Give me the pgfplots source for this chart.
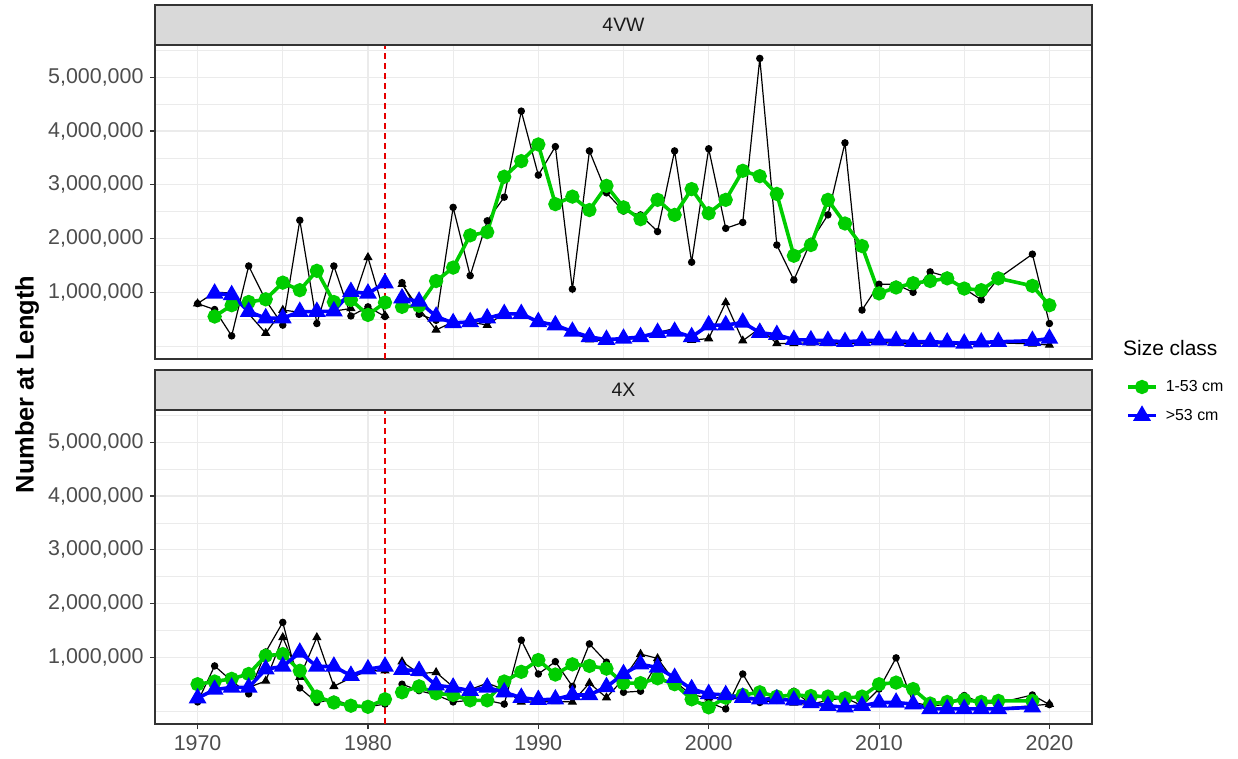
\documentclass[border=0pt]{standalone}
\usepackage{pgfplots}
\pgfplotsset{compat=1.18}
\usepackage{pgfplotstable}
\usepackage{fontspec}
\setmainfont{Liberation Sans}
\definecolor{ggreen}{HTML}{00CD00}
\definecolor{gblue}{HTML}{0000FF}
\definecolor{gridc}{HTML}{EBEBEB}
\definecolor{framec}{HTML}{333333}
\definecolor{ticklab}{HTML}{4D4D4D}
\definecolor{stripc}{HTML}{D9D9D9}
\definecolor{vred}{HTML}{E60000}

% values in millions
\pgfplotstableread{
yr c t g b
1970 0.79 0.79 nan nan
1971 0.68 1.00 0.55 0.98
1972 0.19 0.99 0.76 0.95
1973 1.49 0.60 0.82 0.64
1974 0.85 0.24 0.87 0.52
1975 0.39 0.67 1.18 0.52
1976 2.34 0.63 1.04 0.64
1977 0.42 0.64 1.40 0.64
1978 1.49 0.65 0.82 0.65
1979 0.56 0.70 0.86 1.01
1980 0.73 1.65 0.58 0.98
1981 0.55 0.57 0.81 1.17
1981.5 nan nan nan nan
1982 1.18 1.15 0.73 0.89
1983 0.59 0.70 0.75 0.83
1984 0.48 0.30 1.21 0.55
1985 2.58 0.45 1.46 0.43
1986 1.31 0.45 2.06 0.45
1987 2.33 0.39 2.12 0.52
1988 2.77 0.61 3.15 0.60
1989 4.37 0.57 3.44 0.60
1990 3.18 0.48 3.75 0.45
1991 3.71 0.39 2.64 0.39
1992 1.06 0.25 2.78 0.27
1993 3.63 0.12 2.53 0.17
1994 2.85 0.10 2.98 0.12
1995 2.51 0.12 2.58 0.14
1996 2.44 0.15 2.36 0.17
1997 2.13 0.25 2.72 0.25
1998 3.63 0.33 2.44 0.27
1999 1.56 0.11 2.92 0.17
2000 3.67 0.14 2.47 0.39
2001 2.19 0.81 2.72 0.39
2002 2.30 0.10 3.26 0.44
2003 5.35 0.33 3.16 0.25
2004 1.88 0.05 2.83 0.21
2005 1.23 0.05 1.68 0.12
2006 1.95 0.06 1.88 0.11
2007 2.44 0.05 2.72 0.10
2008 3.78 0.04 2.28 0.08
2009 0.67 0.06 1.86 0.10
2010 1.15 0.07 0.98 0.11
2011 1.15 0.05 1.09 0.10
2012 1.00 0.04 1.17 0.08
2013 1.38 0.05 1.21 0.08
2014 1.29 0.04 1.26 0.07
2015 1.07 0.03 1.07 0.05
2016 0.86 0.04 1.04 0.07
2017 1.26 0.06 1.26 0.08
2019 1.71 0.04 1.12 0.10
2020 0.42 0.02 0.76 0.14
}\topdata

\pgfplotstableread{
yr c t g b
1970 0.17 0.24 0.50 0.24
1971 0.84 0.40 0.55 0.40
1972 0.56 0.44 0.60 0.44
1973 0.32 0.44 0.69 0.44
1974 1.10 0.56 1.03 0.78
1975 1.65 1.37 1.06 0.83
1976 0.43 0.63 0.75 1.09
1977 0.16 1.37 0.27 0.83
1978 0.22 0.46 0.16 0.83
1979 0.10 0.62 0.10 0.66
1980 0.08 0.75 0.08 0.78
1981 0.13 0.75 0.22 0.83
1981.5 nan nan nan nan
1982 0.50 0.92 0.35 0.77
1983 0.38 0.70 0.46 0.75
1984 0.30 0.72 0.33 0.48
1985 0.17 0.45 0.30 0.44
1986 0.20 0.40 0.20 0.38
1987 0.20 0.52 0.20 0.44
1988 0.13 0.40 0.55 0.35
1989 1.32 0.17 0.73 0.25
1990 0.69 0.17 0.95 0.21
1991 0.92 0.18 0.68 0.22
1992 0.46 0.17 0.87 0.30
1993 1.25 0.52 0.84 0.30
1994 0.91 0.25 0.79 0.45
1995 0.35 0.60 0.52 0.69
1996 0.37 1.06 0.52 0.87
1997 0.90 0.98 0.61 0.81
1998 0.55 0.55 0.50 0.62
1999 0.16 0.30 0.22 0.41
2000 0.16 0.25 0.07 0.32
2001 0.04 0.25 0.25 0.30
2002 0.69 0.22 0.30 0.25
2003 0.16 0.20 0.35 0.22
2004 0.20 0.30 0.27 0.22
2005 0.37 0.15 0.30 0.20
2006 0.13 0.12 0.28 0.15
2007 0.20 0.08 0.27 0.10
2008 0.25 0.08 0.24 0.07
2009 0.10 0.10 0.27 0.10
2010 0.41 0.16 0.50 0.16
2011 0.99 0.16 0.53 0.16
2012 0.16 0.14 0.41 0.13
2013 0.10 0.04 0.14 0.04
2014 0.12 0.04 0.17 0.04
2015 0.29 0.04 0.21 0.04
2016 0.15 0.04 0.17 0.04
2017 0.15 0.05 0.19 0.04
2019 0.30 0.10 0.19 0.07
2020 0.12 0.13 nan nan
}\botdata

\pgfplotsset{
  panel/.style={
    width=937bp, height=314bp, scale only axis,
    xmin=1967.5, xmax=2022.5, ymin=-0.24, ymax=5.60,
    axis line style={framec, line width=1.1bp},
    xtick={1970,1980,1990,2000,2010,2020},
    minor xtick={1975,1985,1995,2005,2015},
    ytick={1,2,3,4,5},
    minor ytick={0,0.5,1.5,2.5,3.5,4.5,5.5},
    yticklabels={{1,000,000},{2,000,000},{3,000,000},{4,000,000},{5,000,000}},
    grid=both,
    major grid style={gridc, line width=1.1bp},
    minor grid style={gridc, line width=0.6bp},
    tick style={framec, line width=1.1bp},
    major tick length=5bp, minor tick length=0pt,
    tick align=outside, xtick pos=bottom, ytick pos=left,
    tick label style={font=\fontsize{21.5}{25}\selectfont, text=ticklab},
    yticklabel style={xshift=-3bp},
    xticklabel style={yshift=-3bp},
    unbounded coords=jump,
    clip=true,
  },
  rawc/.style={black, line width=1.2bp, mark=*, mark size=3.1bp, mark options={solid}},
  rawt/.style={black, line width=1.2bp, mark=triangle*, mark size=4.2bp, mark options={solid}},
  smg/.style={ggreen, line width=3.6bp, mark=*, mark size=5.3bp, mark options={solid}},
  smb/.style={gblue, line width=3.6bp, mark=triangle*, mark size=6.7bp, mark options={solid}},
}

\begin{document}
\begin{tikzpicture}[x=1bp,y=1bp]
\useasboundingbox (-155bp,-35bp) rectangle (1083bp,724bp);

% top panel: 4VW
\begin{axis}[panel, at={(0bp,365bp)}, anchor=south west, xticklabels={}, xtick style={draw=none}]
\addplot[vred, line width=1.2bp, dash pattern=on 6bp off 4bp, forget plot] coordinates {(1981,-0.24) (1981,5.60)};
\addplot[rawc, forget plot] table[x=yr, y=c] {\topdata};
\addplot[rawt, forget plot] table[x=yr, y=t] {\topdata};
\addplot[smg, forget plot] table[x=yr, y=g] {\topdata};
\addplot[smb, forget plot] table[x=yr, y=b] {\topdata};
\end{axis}

% bottom panel: 4X
\begin{axis}[panel, at={(0bp,0bp)}, anchor=south west,
  xticklabels={1970,1980,1990,2000,2010,2020},
  legend style={at={(1.0363,1.0277)}, anchor=west, draw=none, fill=none,
    inner sep=0pt, row sep=12bp, font=\fontsize{16}{19}\selectfont,
    cells={anchor=west},
    /tikz/every odd column/.append style={column sep=6bp}},
  legend image code/.code={\draw[mark repeat=2, mark phase=2, #1] plot coordinates {(0bp,0bp) (14bp,0bp) (28bp,0bp)};},
]
\addplot[vred, line width=1.2bp, dash pattern=on 6bp off 4bp, forget plot] coordinates {(1981,-0.24) (1981,5.60)};
\addplot[rawc, forget plot] table[x=yr, y=c] {\botdata};
\addplot[rawt, forget plot] table[x=yr, y=t] {\botdata};
\addplot[smg] table[x=yr, y=g] {\botdata};
\addlegendentry{1-53 cm}
\addplot[smb] table[x=yr, y=b] {\botdata};
\addlegendentry{>53 cm}
\end{axis}

% facet strips
\draw[fill=stripc, draw=framec, line width=1.1bp] (0bp,679bp) rectangle (937bp,719bp);
\node[font=\fontsize{19.5}{23}\selectfont, text={rgb,255:red,26;green,26;blue,26}] at (468.5bp,699bp) {4VW};
\draw[fill=stripc, draw=framec, line width=1.1bp] (0bp,314bp) rectangle (937bp,354bp);
\node[font=\fontsize{19.5}{23}\selectfont, text={rgb,255:red,26;green,26;blue,26}] at (468.5bp,334bp) {4X};

% shared y label
\node[rotate=90, font=\bfseries\fontsize{25.5}{30}\selectfont] at (-128bp,339.5bp) {Number at Length};

% legend title
\node[anchor=west, font=\fontsize{21}{25}\selectfont, inner sep=0pt] at (968bp,375.7bp) {Size class};
\end{tikzpicture}
\end{document}
